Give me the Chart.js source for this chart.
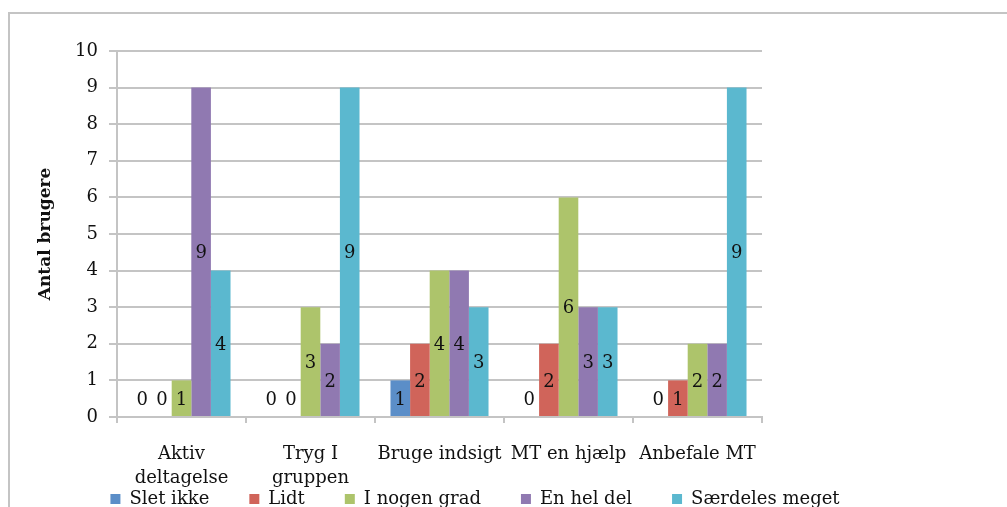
<!DOCTYPE html>
<html>
<head>
<meta charset="utf-8">
<script src="https://cdn.jsdelivr.net/npm/chart.js@4.4.1/dist/chart.umd.min.js"></script>
<style>
  html, body { margin: 0; padding: 0; background: #fff; overflow: hidden; }
  #wrap { width: 1007px; height: 560px; position: relative; }
</style>
</head>
<body>
<div id="wrap"><canvas id="chart"></canvas></div>
<script>
// data
const categories = [['Aktiv', 'deltagelse'], ['Tryg I', 'gruppen'], 'Bruge indsigt', 'MT en hjælp', 'Anbefale MT'];
const seriesNames = ['Slet ikke', 'Lidt', 'I nogen grad', 'En hel del', 'Særdeles meget'];
const sletIkke = [0, 0, 1, 0, 0];
const lidt = [0, 0, 2, 2, 1];
const iNogenGrad = [1, 3, 4, 6, 2];
const enHelDel = [9, 2, 4, 3, 2];
const saerdelesMeget = [4, 9, 3, 3, 9];
const seriesColors = ['#5b8ec8', '#d0645a', '#adc46b', '#9079b1', '#5bb8cf'];

const serif = '"DejaVu Serif", "Liberation Serif", serif';
const gridGray = '#c4c4c4';

// frame around the whole chart
const frame = {
  id: 'frame',
  beforeDraw(chart) {
    const ctx = chart.ctx;
    ctx.save();
    ctx.strokeStyle = gridGray;
    ctx.lineWidth = 2;
    ctx.strokeRect(9, 13, 1100, 600);
    ctx.restore();
  }
};

// legend sits lower than Chart.js puts it (partly cut at the bottom edge)
const legendShift = {
  id: 'legendShift',
  afterLayout(chart) {
    const lg = chart.legend;
    const p = lg.options.labels.padding;
    const newTop = 499 - p - 9;
    const d = newTop - lg.top;
    lg.top += d;
    lg.bottom += d;
  }
};

// value labels in the middle of each bar
const barLabels = {
  id: 'barLabels',
  afterDatasetsDraw(chart) {
    const ctx = chart.ctx;
    const y = chart.scales.y;
    ctx.save();
    ctx.font = '18px ' + serif;
    ctx.fillStyle = '#111';
    ctx.textAlign = 'center';
    ctx.textBaseline = 'middle';
    chart.data.datasets.forEach((ds, i) => {
      chart.getDatasetMeta(i).data.forEach((bar, j) => {
        const v = ds.data[j];
        const ly = v === 0 ? y.getPixelForValue(0.5) : (bar.y + bar.base) / 2;
        ctx.fillText(String(v), bar.x, ly + 2);
      });
    });
    ctx.restore();
  }
};

const allSeries = [sletIkke, lidt, iNogenGrad, enHelDel, saerdelesMeget];

const chart = new Chart(document.getElementById('chart'), {
  type: 'bar',
  data: {
    labels: categories,
    datasets: allSeries.map((d, i) => ({
      label: seriesNames[i],
      data: d,
      backgroundColor: seriesColors[i],
      borderWidth: 0,
      categoryPercentage: 0.76,
      barPercentage: 1
    }))
  },
  options: {
    responsive: true,
    maintainAspectRatio: false,
    animation: false,
    layout: { padding: { left: 0, right: 57, top: 51, bottom: 0 } },
    plugins: {
      tooltip: { enabled: false },
      legend: {
        position: 'bottom',
        labels: {
          font: { family: serif, size: 18 },
          color: '#111',
          boxWidth: 10,
          boxHeight: 10,
          padding: 40
        }
      }
    },
    scales: {
      x: {
        grid: {
          offset: true,
          drawOnChartArea: false,
          drawTicks: true,
          tickLength: 6,
          color: gridGray,
          lineWidth: 2
        },
        border: { color: gridGray, width: 2 },
        ticks: {
          font: { family: serif, size: 18, lineHeight: 1.35 },
          color: '#111',
          maxRotation: 0,
          autoSkip: false,
          padding: 19
        },
        afterFit(s) { s.height = 75; }
      },
      y: {
        min: 0,
        max: 10,
        ticks: {
          stepSize: 1,
          font: { family: serif, size: 18 },
          color: '#111',
          padding: 11
        },
        grid: { color: gridGray, lineWidth: 2, tickLength: 8 },
        border: { color: gridGray, width: 2 },
        title: {
          display: true,
          text: 'Antal brugere',
          font: { family: serif, size: 17, weight: 'bold' },
          color: '#111',
          padding: { top: 35, bottom: 0 }
        },
        afterFit(s) { s.width = 117; }
      },
      yRight: {
        position: 'right',
        display: true,
        grid: { display: false },
        border: { display: false },
        ticks: { display: false },
        afterFit(s) { s.width = 188; }
      }
    }
  },
  plugins: [frame, legendShift, barLabels]
});
</script>
</body>
</html>
